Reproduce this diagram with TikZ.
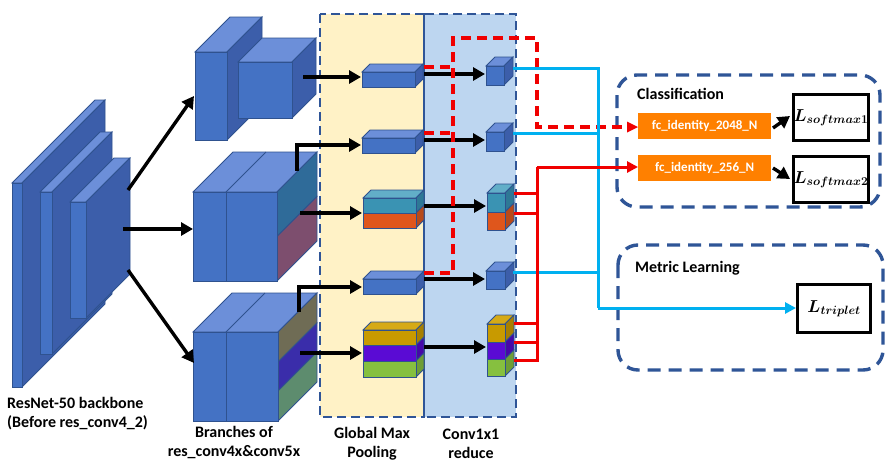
\documentclass[tikz,border=0pt]{standalone}
\usepackage{fontspec}
\setmainfont{Carlito}
\usetikzlibrary{arrows.meta}
\definecolor{bbF}{HTML}{4472C4}
\definecolor{bbT}{HTML}{6C8FD9}
\definecolor{bbS}{HTML}{3C5EAA}
\definecolor{edge}{HTML}{2F528F}
\definecolor{dashblue}{HTML}{2F5597}
\definecolor{gmpY}{HTML}{FFF2C6}
\definecolor{convB}{HTML}{BDD6F0}
\definecolor{tealF}{HTML}{3A93B3}
\definecolor{tealT}{HTML}{62AEC8}
\definecolor{tealS}{HTML}{2E7896}
\definecolor{orF}{HTML}{DF561C}
\definecolor{orS}{HTML}{B84A1A}
\definecolor{goldF}{HTML}{C89A00}
\definecolor{goldT}{HTML}{D6AA16}
\definecolor{goldS}{HTML}{A88000}
\definecolor{purF}{HTML}{5A0BD4}
\definecolor{purS}{HTML}{4608A8}
\definecolor{grnF}{HTML}{86C03F}
\definecolor{grnS}{HTML}{6E9E35}
\definecolor{brTeal}{HTML}{2F6B99}
\definecolor{brMauve}{HTML}{7D4E6E}
\definecolor{brOlive}{HTML}{6F6C55}
\definecolor{brPur}{HTML}{3A2DAA}
\definecolor{brGrn}{HTML}{5D8C6E}
\definecolor{fcOrange}{HTML}{FF8000}
\definecolor{cyanL}{HTML}{00B0F0}
\definecolor{redL}{HTML}{F00000}
\newcommand\FaceTop[5]{\filldraw[fill=#5] (#1,#2) -- ({#1+#4},{#2-#4}) -- ({#3+#4},{#2-#4}) -- (#3,#2) -- cycle;}
\newcommand\FaceSide[5]{\filldraw[fill=#5] (#1,#2) -- ({#1+#4},{#2-#4}) -- ({#1+#4},{#3-#4}) -- (#1,#3) -- cycle;}
\newcommand\FaceFront[5]{\filldraw[fill=#5] (#1,#2) rectangle (#3,#4);}
\newcommand\Cube[6]{\FaceTop{#1}{#2}{#3}{#5}{#6T}\FaceSide{#3}{#2}{#4}{#5}{#6S}\FaceFront{#1}{#2}{#3}{#4}{#6F}}
\newcommand\LossText[1]{{\boldmath$L_{#1}$}}
\begin{document}
\begin{tikzpicture}[x=1pt,y=-1pt,
  every path/.append style={line join=miter},
  blk/.style={line width=3.4pt,-{Triangle[length=12pt,width=13pt]}},
  cyanline/.style={cyanL,line width=3pt},
  redline/.style={redL,line width=3pt},
  reddash/.style={redL,line width=3.2pt,dash pattern=on 10pt off 6pt},
  tipcol/.style={-{Triangle[length=11pt,width=11pt]}},
  panel/.style={dashblue,line width=2.8pt,dash pattern=on 9pt off 5pt},
  group/.style={dashblue,line width=3.4pt,dash pattern=on 13pt off 8pt,rounded corners=20pt},
  fcbox/.style={fill=fcOrange,text=white,font=\fontsize{13}{15}\selectfont\bfseries,minimum width=133pt,minimum height=26pt,inner sep=0pt},
  lossbox/.style={draw=black,line width=3.2pt,fill=white,minimum width=73pt,minimum height=46pt,inner sep=0pt,font=\fontsize{18}{20}\selectfont},
  lbl/.style={font=\fontsize{16}{19}\selectfont\bfseries,align=center,inner sep=0pt},
  grouplbl/.style={font=\fontsize{16}{19}\selectfont\bfseries,anchor=west,inner sep=0pt}
]
\useasboundingbox (0,0) rectangle (895,469);
\fill[white] (0,0) rectangle (895,469);
\begin{scope}[draw=edge,line width=0.8pt]
% backbone
\Cube{12}{183}{22}{387}{83}{bb}
\Cube{40}{192}{52}{354}{60}{bb}
\Cube{70}{202}{86}{318}{44}{bb}
% branch 1
\Cube{195}{52}{227}{140}{35}{bb}
\Cube{238}{62}{292}{118}{24}{bb}
% branch 2
\FaceTop{193}{192}{277}{40}{bbT}
\draw (226,192) -- (266,152);
\FaceSide{277}{192}{236.5}{40}{brTeal}
\FaceSide{277}{236.5}{281}{40}{brMauve}
\FaceFront{193}{192}{226}{281}{bbF}
\FaceFront{226}{192}{277}{281}{bbF}
% branch 3
\FaceTop{193}{332}{278}{39}{bbT}
\draw (226,332) -- (265,293);
\FaceSide{278}{332}{362}{39}{brOlive}
\FaceSide{278}{362}{391}{39}{brPur}
\FaceSide{278}{391}{421}{39}{brGrn}
\FaceFront{193}{332}{226}{421}{bbF}
\FaceFront{226}{332}{278}{421}{bbF}
\end{scope}
% panels
\fill[gmpY] (320,14) rectangle (424,417);
\fill[convB] (424,14) rectangle (516,417);
\draw[panel] (320,14) rectangle (424,417);
\draw[panel] (424,14) rectangle (516,417);
\begin{scope}[draw=edge,line width=0.8pt]
% GMP boxes
\Cube{362}{72}{415}{87}{8}{bb}
\Cube{362}{138}{415}{153}{8}{bb}
\FaceTop{363}{198}{416}{8}{tealT}
\FaceSide{416}{198}{213}{8}{tealS}
\FaceSide{416}{213}{228}{8}{orS}
\FaceFront{363}{198}{416}{213}{tealF}
\FaceFront{363}{213}{416}{228}{orF}
\Cube{363}{279}{416}{294}{8}{bb}
\FaceTop{363}{330}{416}{8}{goldT}
\FaceSide{416}{330}{345}{8}{goldS}
\FaceSide{416}{345}{361}{8}{purS}
\FaceSide{416}{361}{377}{8}{grnS}
\FaceFront{363}{330}{416}{345}{goldF}
\FaceFront{363}{345}{416}{361}{purF}
\FaceFront{363}{361}{416}{377}{grnF}
% conv boxes
\Cube{486}{66}{504}{85}{9}{bb}
\Cube{486}{132}{504}{151}{9}{bb}
\FaceTop{487}{193}{505}{9}{tealT}
\FaceSide{505}{193}{212}{9}{tealS}
\FaceSide{505}{212}{230}{9}{orS}
\FaceFront{487}{193}{505}{212}{tealF}
\FaceFront{487}{212}{505}{230}{orF}
\Cube{486}{271}{505}{289}{9}{bb}
\FaceTop{487}{324}{505}{9}{goldT}
\FaceSide{505}{324}{342}{9}{goldS}
\FaceSide{505}{342}{359}{9}{purS}
\FaceSide{505}{359}{376}{9}{grnS}
\FaceFront{487}{324}{505}{342}{goldF}
\FaceFront{487}{342}{505}{359}{purF}
\FaceFront{487}{359}{505}{376}{grnF}
\end{scope}
% named coordinates
\coordinate (bbA) at (128,190); \coordinate (brA) at (194,96);
\coordinate (bbB) at (123,229); \coordinate (brB) at (193,229);
\coordinate (bbC) at (128,270); \coordinate (brC) at (194,363);
\coordinate (b1) at (303,77);  \coordinate (g1i) at (361,77);
\coordinate (b2a) at (297,171); \coordinate (g2i) at (361,145);
\coordinate (b2b) at (300,213); \coordinate (g3i) at (362,213);
\coordinate (b3a) at (299,312); \coordinate (g4i) at (362,287);
\coordinate (b3b) at (300,353); \coordinate (g5i) at (362,353);
\coordinate (g1o) at (424,74); \coordinate (c1i) at (485,74);
\coordinate (g2o) at (424,140); \coordinate (c2i) at (485,140);
\coordinate (g3o) at (424,206); \coordinate (c3i) at (486,206);
\coordinate (g4o) at (424,279); \coordinate (c4i) at (485,279);
\coordinate (g5o) at (424,347); \coordinate (c5i) at (486,347);
% backbone arrows
\draw[blk] (bbA) -- (brA);
\draw[blk] (bbB) -- (brB);
\draw[blk] (bbC) -- (brC);
% branch -> GMP
\draw[blk] (b1) -- (g1i);
\draw[blk] (b2a) |- (g2i);
\draw[blk] (b2b) -- (g3i);
\draw[blk] (b3a) |- (g4i);
\draw[blk] (b3b) -- (g5i);
% GMP -> conv
\draw[blk] (g1o) -- (c1i);
\draw[blk] (g2o) -- (c2i);
\draw[blk] (g3o) -- (c3i);
\draw[blk] (g4o) -- (c4i);
\draw[blk] (g5o) -- (c5i);
% groups
\draw[group] (617,75) rectangle (880,207);
\draw[group] (618,245) rectangle (883,370);
\node[grouplbl] (cls) at (637,94) {Classification};
\node[grouplbl] (met) at (635,268) {Metric Learning};
\node[fcbox,anchor=north west] (fc1) at (638,113) {fc\_identity\_2048\_N};
\node[fcbox,anchor=north west] (fc2) at (638,155) {fc\_identity\_256\_N};
\node[lossbox,anchor=north west] (ls1) at (792,93) {\LossText{softmax1}};
\node[lossbox,anchor=north west] (ls2) at (792,155) {\LossText{softmax2}};
\node[lossbox,anchor=north west,minimum height=48pt] (lt) at (796,283) {\LossText{triplet}};
\coordinate (fc1o) at (773,128); \coordinate (ls1i) at (790,116);
\coordinate (fc2o) at (773,168); \coordinate (ls2i) at (790,179);
\draw[blk] (fc1o) -- (ls1i);
\draw[blk] (fc2o) -- (ls2i);
% red dashed
\coordinate (rd1) at (424,67); \coordinate (rd2) at (424,133); \coordinate (rd4) at (424,273);
\coordinate (rdv) at (453,38); \coordinate (rdr) at (537,38); \coordinate (rdk) at (537,127);
\coordinate (fc1i) at (627,127);
\draw[reddash] (rd1) -- (453,67);
\draw[reddash] (rd2) -- (453,133);
\draw[reddash] (rd4) -- (453,273) -- (rdv) -- (rdr) -- (rdk) -- (fc1i);
\fill[redL] (fc1.west |- fc1i) -- ++(-11,-5.5) -- ++(0,11) -- cycle;
% cyan
\coordinate (cy1) at (513,68); \coordinate (cy2) at (513,133); \coordinate (cy4) at (513,272);
\coordinate (cyk) at (598,308);
\draw[cyanline] (cy1) -- (598,68) -- (cyk);
\draw[cyanline,tipcol] (cyk) -- (lt.west |- cyk);
\draw[cyanline] (cy2) -- (598,133);
\draw[cyanline] (cy4) -- (598,272);
% red solid
\coordinate (rs1) at (514,193); \coordinate (rs2) at (514,213);
\coordinate (rs3) at (514,323); \coordinate (rs4) at (514,342); \coordinate (rs5) at (514,360);
\coordinate (rsk) at (537,167);
\draw[redline] (rs1) -- (537,193);
\draw[redline] (rs2) -- (537,213);
\draw[redline] (rs3) -- (537,323);
\draw[redline] (rs4) -- (537,342);
\draw[redline] (rs5) -- (537,360);
\draw[redline] (537,361.5) -- (rsk);
\draw[redline,tipcol] (rsk) -- (fc2.west |- rsk);
% labels
\node[lbl,anchor=west,align=left] (lbb) at (7,414) {ResNet-50 backbone\\(Before res\_conv4\_2)};
\node[lbl] (lbr) at (234,442) {Branches of\\res\_conv4x\&conv5x};
\node[lbl] (lgm) at (372,444) {Global Max\\Pooling};
\node[lbl] (lcv) at (471,444) {Conv1x1\\reduce};
\end{tikzpicture}
\end{document}
